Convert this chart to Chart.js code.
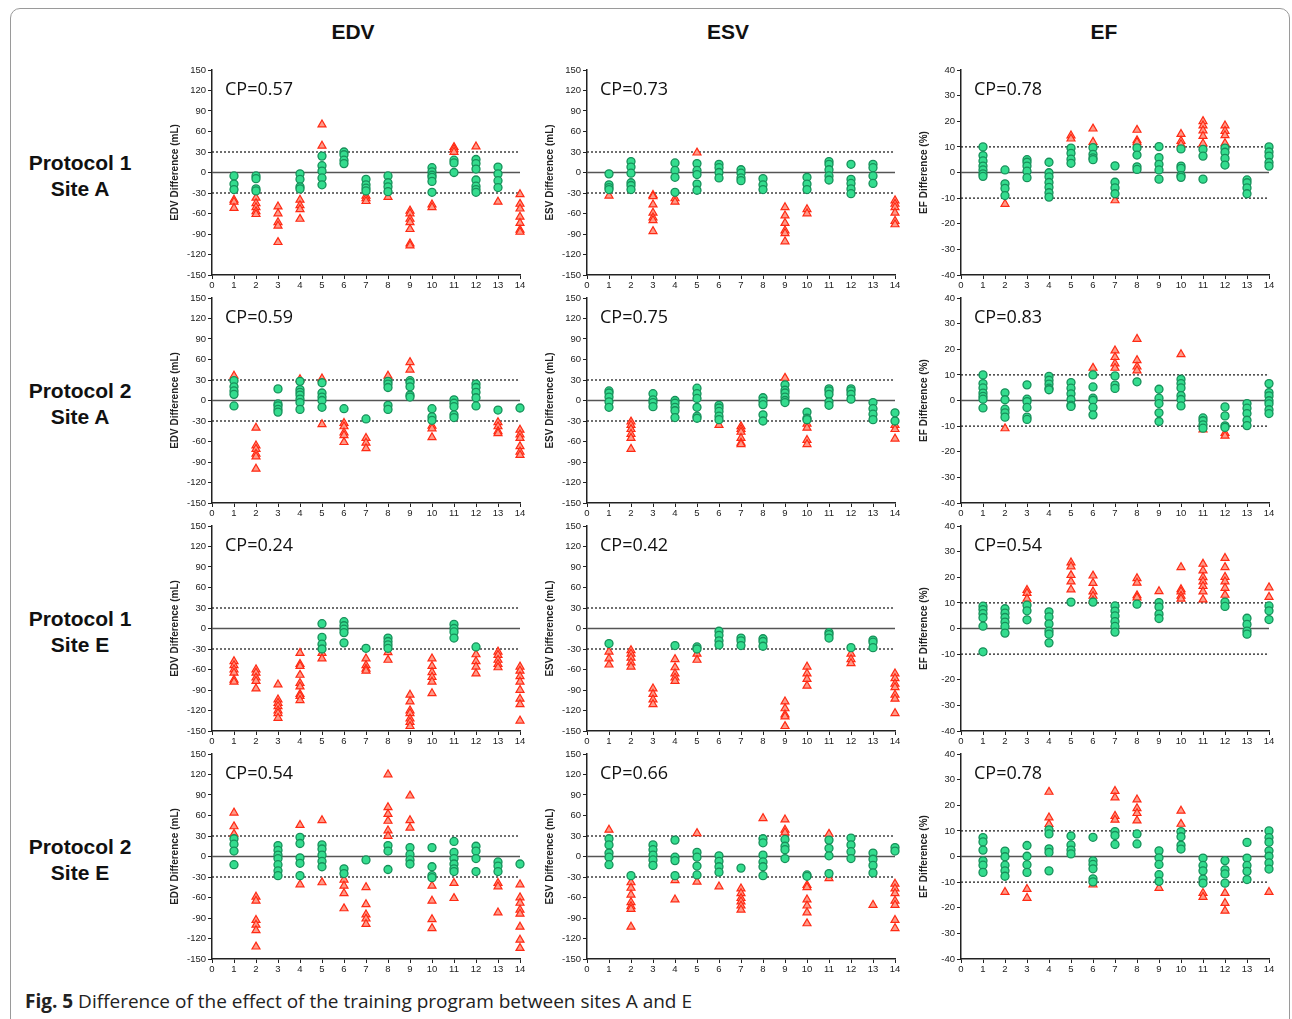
<!DOCTYPE html>
<html>
<head>
<meta charset="utf-8">
<script src="https://cdn.jsdelivr.net/npm/chart.js@4.4.1/dist/chart.umd.min.js"></script>
<style>
  body { margin: 0; background: #fff; width: 1292px; height: 1019px; overflow: hidden; position: relative; font-family: "Liberation Sans", Arial, sans-serif; }
  .frame { position: absolute; left: 10px; top: 8px; width: 1278px; height: 1040px; border: 1px solid #9a9a9a; border-radius: 10px; }
  .coltitle { position: absolute; top: 20px; font-weight: bold; font-size: 21px; width: 120px; text-align: center; color: #111; }
  .rowlabel { position: absolute; left: 20px; width: 120px; text-align: center; font-weight: bold; font-size: 21px; line-height: 26px; color: #111; }
  .caption { position: absolute; left: 25px; top: 988px; font-size: 19px; color: #222; font-family: "Open Sans", sans-serif; }
  canvas { position: absolute; }
</style>
</head>
<body>
<div class="frame"></div>
<div class="coltitle" style="left:293px">EDV</div>
<div class="coltitle" style="left:668px">ESV</div>
<div class="coltitle" style="left:1044px">EF</div>
<div class="rowlabel" style="top:150px">Protocol 1<br>Site A</div>
<div class="rowlabel" style="top:378px">Protocol 2<br>Site A</div>
<div class="rowlabel" style="top:606px">Protocol 1<br>Site E</div>
<div class="rowlabel" style="top:834px">Protocol 2<br>Site E</div>
<div class="caption"><b>Fig. 5</b> Difference of the effect of the training program between sites A and E</div>

<script>
// subjects 1..14 on the x axis
const subjects = [1, 2, 3, 4, 5, 6, 7, 8, 9, 10, 11, 12, 13, 14];
const volumeTicks = [-150, 150, 30];
const efTicks = [-40, 40, 10];
const volumeLimits = [30, -30];
const efLimits = [10, -10];
const cpValues = ['0.57', '0.73', '0.78', '0.59', '0.75', '0.83', '0.24', '0.42', '0.54', '0.54', '0.66', '0.78'];

// Protocol 1, site A
const edvP1A_green = [[-5,-17,-25],[-5,-9,-24,-27],[],[-2,-10,-21,-24],[24,10,2,-8,-18],[30,26,18,13],[-10,-18,-23,-27],[-5,-15,-21,-28],[],[7,1,-4,-7,-13,-29],[18,14,0],[19,13,5,-11,-20,-25,-29],[8,-2,-12,-22],[]];
const edvP1A_red = [[-40,-43,-52],[-37,-45,-51,-57,-61],[-50,-60,-73,-78,-102],[-40,-48,-54,-68],[70,39],[],[-34,-38,-42],[-36],[-56,-60,-68,-73,-83,-104,-107],[-47,-51],[37,34,30],[38],[-43],[-32,-46,-53,-65,-74,-84,-87]];
const esvP1A_green = [[-2,-18,-22,-25],[16,8,-1,-15,-19,-25],[],[14,3,-7,-29],[13,3,-3,-17,-26],[12,7,0,-8],[4,-1,-8,-12],[-9,-18,-25],[],[-7,-17,-25],[16,12,4,-5,-11],[12,-10,-16,-24,-31],[12,7,-5,-16],[]];
const esvP1A_red = [[-34],[],[-33,-35,-47,-59,-66,-70,-86],[-38,-43],[29],[],[],[],[-51,-63,-74,-85,-89,-101],[-54,-60],[],[],[],[-41,-46,-51,-59,-71,-76]];
const efP1A_green = [[10,6.6,4.5,2.5,1,-0.5,-1.5],[1,-4.4,-6.2,-9],[5,4,2.5,0.5,-2],[4,-0.1,-1.7,-3.9,-5.8,-7.9,-9.6],[9.5,7.5,5.2,3.6],[9.7,7.1,5.7,5],[2.6,-3.8,-6,-8.3],[9.6,6.8,2.2,1.2],[10.1,5.8,3.2,1,-2.6],[9.2,2.5,1.6,-1.2,-1.9],[9,6.4,-2.6],[9.5,7.9,5.5,2.9],[-2.9,-4,-6,-8.3],[10,8,6.4,3.9,2.5]];
const efP1A_red = [[],[-12.3],[],[],[14.4,13.2],[17.1,11.9],[-10.9],[16.6,12.5,11.8],[],[15,12.3,11],[20,18.3,16.4,14.2,11.3],[18.3,16.2,14.5,11.4],[],[]];

// Protocol 2, site A
const edvP2A_green = [[29,20,14,9,-8],[],[17,-5,-8,-13,-17],[28,16,12,8,2,-3,-13],[26,11,5,0,-10],[-12],[-27],[28,24,19,-7,-13],[29,26,20,8,5],[-12,-24,-29],[1,-4,-9,-21,-25],[24,19,12,4,-8],[-14],[-11]];
const edvP2A_red = [[36],[-40,-66,-71,-78,-82,-100],[],[31],[32,-35],[-33,-38,-47,-51,-61],[-55,-62,-70],[36],[56,45],[-37,-41,-54],[],[],[-32,-38,-45,-48],[-43,-50,-55,-67,-75,-80]];
const esvP2A_green = [[14,11,5,-2,-10],[],[10,1,-3,-9],[0,-4,-10,-15,-25],[18,10,3,-10,-23,-26],[-7,-11,-16,-23,-28],[],[4,-1,-6,-21,-30],[23,15,11,5,0,-3],[-17,-26,-28],[17,14,9,-2,-7],[17,14,9,2],[-3,-12,-20,-28],[-18,-30]];
const esvP2A_red = [[],[-31,-36,-42,-49,-55,-71],[],[],[],[-36],[-38,-42,-46,-55,-62,-64],[],[33],[-34,-40,-58,-64],[],[],[],[-36,-42,-56]];
const efP2A_green = [[10,6.6,4.9,2.9,1.6,0.5,-2.9],[3,0.3,-3.4,-4.8,-6.5],[6.1,0.5,-0.4,-2.7,-6.5,-7.4],[9.4,7.9,6.4,4.8,4.2],[7,4.8,2.6,0.4,-1.8,-2.3],[10,5.3,0.9,0.1,-2.7,-5.6],[9.6,6,4.7],[7.3],[4.4,0.9,-1.2,-4.8,-8.2],[8.3,6.6,4.9,1.9,0.4,-2.1],[-6.8,-7.9,-9.5,-10.8],[-2.5,-6,-9.9,-10.5],[-1.2,-3,-5.1,-7.7,-9.8],[6.6,3.1,1.8,-0.1,-1.3,-3.6,-5.1]];
const efP2A_red = [[],[-10.9],[],[],[],[12.7],[19.5,16.9,14.4,12.7],[24,15.7,13.2,11.7],[],[18],[-11.4],[-12.7,-13.8],[],[]];

// Protocol 1, site E
const edvP1E_green = [[],[],[],[],[7,-13,-23,-30],[10,4,-1,-6,-21],[-29],[-14,-19,-24,-29],[],[],[6,0,-5,-14],[-27],[],[]];
const edvP1E_red = [[-48,-54,-60,-65,-75,-78],[-60,-65,-72,-77,-88],[-82,-104,-109,-114,-120,-124,-131],[-36,-52,-55,-68,-80,-85,-96,-99,-105],[-36,-44],[],[-44,-54,-59,-62],[-35,-46],[-97,-107,-120,-124,-132,-137,-143],[-44,-55,-64,-71,-78,-95],[],[-38,-48,-56,-66],[-34,-39,-46,-52,-57],[-56,-62,-70,-78,-90,-103,-111,-135]];
const esvP1E_green = [[-22],[],[],[-25],[-27,-30],[-4,-10,-18,-24],[-14,-18,-25],[-15,-19,-26],[],[],[-6,-9,-14],[-28],[-17,-20,-28],[]];
const esvP1E_red = [[-34,-44,-53],[-32,-37,-43,-50,-56],[-88,-96,-104,-111],[-45,-57,-66,-72,-77],[-37,-46],[],[],[],[-107,-117,-126,-129,-143],[-56,-66,-74,-84],[],[-37,-45,-51],[],[-66,-73,-81,-86,-97,-103,-124]];
const efP1E_green = [[8.7,7.4,5.8,4.2,0.9,-9.1],[7.7,6,4.3,2.5,0.8,-1.8],[9.1,6.9,3.4],[6.5,4.5,1.8,-1,-2.2,-5.6],[10.3],[10.3],[8.8,6.8,4.9,2.7,0.8,-1.4],[9.5],[10.1,8.4,5.6,3.9],[],[],[10.3,8.6],[4,1.6,-1,-2.2],[8.8,6.9,3.5]];
const efP1E_red = [[],[],[15,13.8,11.6],[],[25.7,24.2,20.8,18.3,15.2],[20.6,17.7,14.4,12.7,10.9],[],[19.6,17.8,12.9,12.1],[14.5],[23.9,15.3,14.4,12.7,11.6],[25.2,22.6,20,18.3,16.5,14.4,11.3],[27.5,23.9,20.1,18.3,15.8,13.1],[],[16,12.3]];

// Protocol 2, site E
const edvP2E_green = [[26,18,8,-12],[],[16,9,2,-3,-12,-21,-28],[28,19,-2,-10,-28],[17,11,2,-7,-15],[-18,-25],[-5],[16,8,-19],[13,3,-5,-11],[13,-15,-28,-31],[22,6,-3,-11,-18,-22],[15,8,-3,-22],[-8,-14,-22],[-11]];
const edvP2E_red = [[64,44,33],[-59,-65,-93,-100,-108,-132],[],[46,-41],[53,-38],[-34,-43,-54,-76],[-45,-70,-85,-91,-99],[120,72,62,52,38,30],[89,53,42],[-43,-65,-92,-105],[-39,-61],[],[-39,-44,-82],[-41,-60,-68,-78,-84,-103,-122,-134]];
const esvP2E_green = [[26,17,5,-1,-12],[-28],[17,10,2,-5,-13],[24,-1,-6,-28],[6,-1,-14,-27],[1,-7,-15,-23],[-17],[26,20,2,-8,-15,-28],[25,15,10,-3],[-27,-29],[24,12,1,-25],[27,17,7,-3],[5,-4,-13,-24],[13,8]];
const esvP2E_red = [[39],[-38,-46,-56,-67,-73,-77,-103],[],[-35,-63],[34,-37],[-44],[-47,-54,-61,-66,-72,-78],[56],[54,39,35],[-42,-45,-63,-72,-82,-98],[33,-32],[],[-71],[-40,-47,-54,-65,-71,-93,-105]];
const efP2E_green = [[7.4,5.7,2.5,-1.7,-3.4,-6.2],[2.1,-0.1,-3.4,-5.6,-7.7],[4.3,0.1,-3.2,-6.2],[10.4,8.8,3,1.6,-5.6],[8,4.5,2.5,1],[7.5,-1.7,-3.1,-4.8,-8.7,-9.9],[9.7,8.2,4.7],[8.8,4.9],[2.2,-0.5,-3.1,-7.1,-9.7],[9.7,7.7,4.4,2.9],[-0.6,-3.5,-5.6,-8.8,-10.4],[-1.6,-5.2,-6.8,-10.4],[5.5,-0.6,-3.5,-5.8,-9],[10,7.4,5.6,2.2,0.1,-2.5,-4.9]];
const efP2E_red = [[],[-13.9],[-12.7,-16.2],[25.2,15.2,12.6],[],[-11],[25.5,23,15.8,14.3],[22.2,18.8,16.9,14],[-12.3],[17.8,12.7],[-14.3,-15.8],[-14.3,-18.2,-21.2],[],[-13.9]];

const panels = [
  [edvP1A_green, edvP1A_red, 'EDV'], [esvP1A_green, esvP1A_red, 'ESV'], [efP1A_green, efP1A_red, 'EF'],
  [edvP2A_green, edvP2A_red, 'EDV'], [esvP2A_green, esvP2A_red, 'ESV'], [efP2A_green, efP2A_red, 'EF'],
  [edvP1E_green, edvP1E_red, 'EDV'], [esvP1E_green, esvP1E_red, 'ESV'], [efP1E_green, efP1E_red, 'EF'],
  [edvP2E_green, edvP2E_red, 'EDV'], [esvP2E_green, esvP2E_red, 'ESV'], [efP2E_green, efP2E_red, 'EF']
];

// where each plot area sits on the page
const axisLeft = [212, 587, 961];
const plotTop = [70, 298, 526, 754];
const plotW = 308, plotH = 205;
const yAxisW = 45, xAxisH = 18, padTop = 8, padRight = 12;

Chart.defaults.animation = false;
Chart.defaults.font.family = '"Liberation Sans", Arial, sans-serif';
Chart.defaults.color = '#222';

function toPoints(groups) {
  const pts = [];
  groups.forEach(function (vals, i) {
    vals.forEach(function (v) { pts.push({ x: subjects[i], y: v }); });
  });
  return pts;
}

function refLine(y, dashed) {
  return {
    type: 'line',
    data: [{ x: 0, y: y }, { x: subjects[subjects.length - 1], y: y }],
    borderColor: dashed ? '#222' : '#555',
    borderWidth: dashed ? 1.3 : 1.4,
    borderDash: dashed ? [2, 2] : [],
    pointRadius: 0,
    fill: false
  };
}

const cpLabel = {
  id: 'cpLabel',
  afterDraw: function (chart) {
    const ctx = chart.ctx;
    ctx.save();
    ctx.font = '18px "Open Sans", sans-serif';
    ctx.fillStyle = '#111';
    ctx.textBaseline = 'middle';
    ctx.fillText('CP=' + chart.options.plugins.cpLabel.text, chart.chartArea.left + 13, chart.chartArea.top + 20);
    ctx.restore();
  }
};

panels.forEach(function (p, k) {
  const row = Math.floor(k / 3), col = k % 3;
  const isEF = p[2] === 'EF';
  const ticks = isEF ? efTicks : volumeTicks;
  const limits = isEF ? efLimits : volumeLimits;

  const canvas = document.createElement('canvas');
  const w = yAxisW + plotW + padRight, h = padTop + plotH + xAxisH;
  canvas.width = w; canvas.height = h;
  canvas.style.width = w + 'px'; canvas.style.height = h + 'px';
  canvas.style.left = (axisLeft[col] - yAxisW) + 'px';
  canvas.style.top = (plotTop[row] - padTop) + 'px';
  document.body.appendChild(canvas);

  new Chart(canvas, {
    type: 'scatter',
    data: {
      datasets: [
        {
          data: toPoints(p[0]), clip: false,
          pointStyle: 'circle', pointRadius: 4, pointBorderWidth: 1.3,
          backgroundColor: '#34dc8e', borderColor: '#17905a'
        },
        {
          data: toPoints(p[1]), clip: false,
          pointStyle: 'triangle', pointRadius: 4.6, pointBorderWidth: 1.2,
          backgroundColor: '#ff9a88', borderColor: '#ff2a14'
        },
        refLine(0, false),
        refLine(limits[0], true),
        refLine(limits[1], true)
      ]
    },
    options: {
      responsive: false,
      devicePixelRatio: 1,
      layout: { padding: { top: padTop, right: padRight, left: 0, bottom: 0 } },
      plugins: { legend: { display: false }, tooltip: { enabled: false }, cpLabel: { text: cpValues[k] } },
      scales: {
        x: {
          type: 'linear', min: 0, max: subjects[subjects.length - 1],
          afterFit: function (s) { s.height = xAxisH; },
          ticks: { stepSize: 1, font: { size: 9.5 }, padding: 1, maxRotation: 0, autoSkip: false },
          grid: { drawOnChartArea: false, drawTicks: true, tickLength: 4, color: '#222' },
          border: { display: true, color: '#222', width: 1.5 }
        },
        y: {
          min: ticks[0], max: ticks[1],
          afterFit: function (s) { s.width = yAxisW; },
          ticks: { stepSize: ticks[2], font: { size: 9.5 }, padding: 2 },
          grid: { drawOnChartArea: false, drawTicks: true, tickLength: 4, color: '#222' },
          border: { display: true, color: '#222', width: 1.5 },
          title: {
            display: true,
            text: isEF ? 'EF Difference (%)' : p[2] + ' Difference (mL)',
            font: { size: 10, weight: 'bold' },
            padding: { top: 2, bottom: 0 }
          }
        }
      }
    },
    plugins: [cpLabel]
  });
});
</script>
</body>
</html>
